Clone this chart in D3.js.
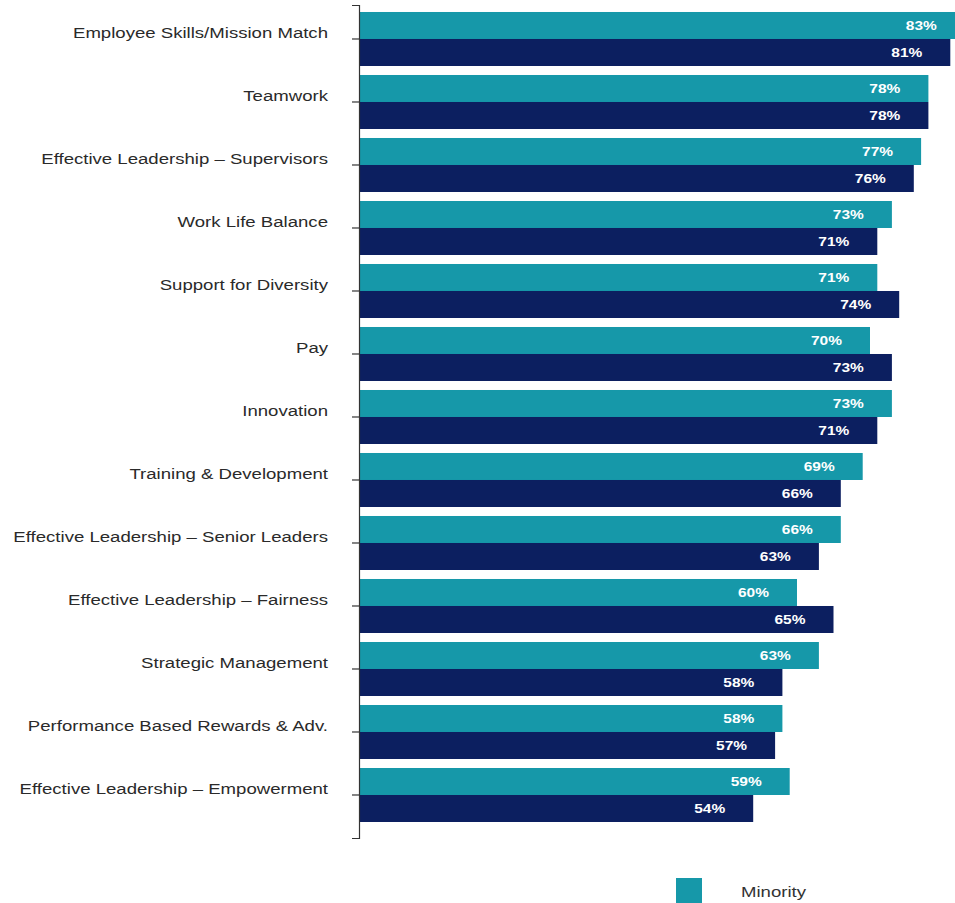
<!DOCTYPE html>
<html>
<head>
<meta charset="utf-8">
<script src="https://cdn.jsdelivr.net/npm/d3@7"></script>
<style>
  html, body { margin: 0; padding: 0; background: #ffffff; }
  svg { display: block; }
</style>
</head>
<body>
<div id="chart"></div>
<script>
// Survey dimensions, top to bottom
const categories = [
  "Employee Skills/Mission Match",
  "Teamwork",
  "Effective Leadership – Supervisors",
  "Work Life Balance",
  "Support for Diversity",
  "Pay",
  "Innovation",
  "Training & Development",
  "Effective Leadership – Senior Leaders",
  "Effective Leadership – Fairness",
  "Strategic Management",
  "Performance Based Rewards & Adv.",
  "Effective Leadership – Empowerment"
];

// Percent positive, by group
const seriesNames = ["Minority", "Non-Minority"];
const minority    = [83, 78, 77, 73, 71, 70, 73, 69, 66, 60, 63, 58, 59];
const nonMinority = [81, 78, 76, 71, 74, 73, 71, 66, 63, 65, 58, 57, 54];
const seriesColors = ["#1698a9", "#0c1f60"];

const width = 955, height = 903;
// the lettering is set wide: horizontal stretch applied to every text run
const stretch = 1.24;
const fontFamily = "Liberation Sans, Arial, sans-serif";

const svg = d3.select("#chart").append("svg")
  .attr("width", width)
  .attr("height", height);

const x = d3.scaleLinear().domain([0, 100]).range([359, 1089]);

const y = d3.scaleBand()
  .domain(categories)
  .range([5, 838])
  .paddingInner(9 / 63)
  .paddingOuter(0.1825)
  .align(0.304);

const sub = d3.scaleBand()
  .domain(seriesNames)
  .range([0, y.bandwidth()]);

const rows = categories.map((c, i) => ({
  category: c,
  values: [
    { name: seriesNames[0], value: minority[i] },
    { name: seriesNames[1], value: nonMinority[i] }
  ]
}));

const color = d3.scaleOrdinal().domain(seriesNames).range(seriesColors);

// draws a text run anchored at (ax, ay) with horizontal stretch
function wideText(sel, ax, ay) {
  return sel.attr("transform", (d, i) => `translate(${ax(d, i)},${ay(d, i)}) scale(${stretch},1)`);
}

const groups = svg.append("g")
  .selectAll("g")
  .data(rows)
  .join("g")
  .attr("transform", d => `translate(0,${y(d.category)})`);

groups.selectAll("rect")
  .data(d => d.values)
  .join("rect")
  .attr("x", x(0) + 1)
  .attr("y", d => sub(d.name))
  .attr("width", d => x(d.value) - x(0) - 1)
  .attr("height", sub.bandwidth())
  .attr("fill", d => color(d.name));

groups.selectAll("text.val")
  .data(d => d.values)
  .join("text")
  .attr("class", "val")
  .call(wideText, d => x(d.value) - 28, d => sub(d.name) + sub.bandwidth() / 2)
  .attr("dy", "0.35em")
  .attr("text-anchor", "end")
  .attr("fill", "#ffffff")
  .attr("font-family", fontFamily)
  .attr("font-weight", "bold")
  .attr("font-size", 12.5)
  .text(d => d.value + "%");

// Category axis on the left
const axis = svg.append("g")
  .attr("transform", `translate(${x(0)},0)`)
  .call(d3.axisLeft(y).tickSize(7).tickSizeOuter(7).tickFormat(""));

axis.select(".domain").attr("stroke", "#333").attr("stroke-width", 1.2);
axis.selectAll(".tick line").attr("stroke", "#333").attr("stroke-width", 1.2);

svg.append("g")
  .selectAll("text")
  .data(categories)
  .join("text")
  .call(wideText, () => 328, d => y(d) + y.bandwidth() / 2 - 6)
  .attr("dy", "0.35em")
  .attr("text-anchor", "end")
  .attr("fill", "#2a2a2a")
  .attr("font-family", fontFamily)
  .attr("font-size", 15)
  .text(d => d);

// Legend
const legend = svg.append("g").attr("transform", "translate(676,878)");
legend.append("rect")
  .attr("width", 26)
  .attr("height", 26)
  .attr("fill", color(seriesNames[0]));
legend.append("text")
  .attr("transform", `translate(65,14) scale(${stretch},1)`)
  .attr("dy", "0.35em")
  .attr("fill", "#333")
  .attr("font-family", fontFamily)
  .attr("font-size", 15)
  .text(seriesNames[0]);
</script>
</body>
</html>
